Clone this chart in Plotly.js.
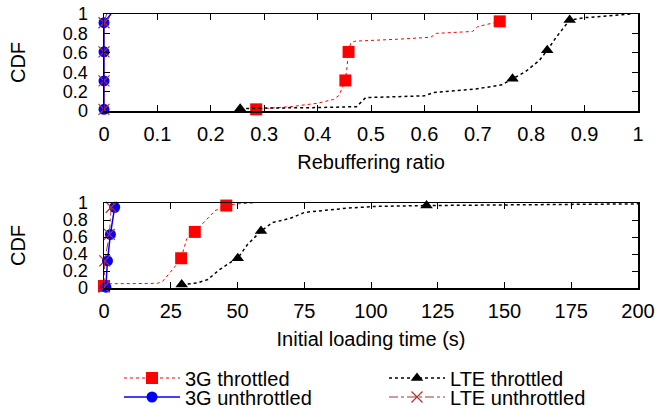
<!DOCTYPE html>
<html>
<head>
<meta charset="utf-8">
<script src="https://cdn.plot.ly/plotly-3.0.1.min.js"></script>
<style>html,body{margin:0;padding:0;background:#fff;}#chart{width:655px;height:408px;}</style>
</head>
<body>
<div id="chart"></div>
<script>
// ---------- Data ----------
// Top panel: rebuffering ratio CDFs
const rebuf3GThrX = [0.282, 0.285, 0.30, 0.35, 0.40, 0.43, 0.44, 0.445, 0.452, 0.455, 0.458, 0.462, 0.47, 0.55, 0.612, 0.622, 0.69, 0.70, 0.741];
const rebuf3GThrY = [0.0, 0.017, 0.025, 0.045, 0.08, 0.12, 0.16, 0.22, 0.315, 0.45, 0.609, 0.70, 0.72, 0.74, 0.76, 0.80, 0.82, 0.87, 0.924];
const rebuf3GThrMkX = [0.285, 0.452, 0.458, 0.741];
const rebuf3GThrMkY = [0.017, 0.315, 0.609, 0.924];

const rebufLTEThrX = [0.255, 0.30, 0.40, 0.473, 0.49, 0.55, 0.60, 0.617, 0.695, 0.745, 0.765, 0.789, 0.815, 0.830, 0.846, 0.872, 0.90, 0.98, 0.987];
const rebufLTEThrY = [0.024, 0.03, 0.035, 0.045, 0.138, 0.145, 0.156, 0.19, 0.225, 0.27, 0.332, 0.405, 0.52, 0.626, 0.754, 0.938, 0.962, 0.993, 1.0];
const rebufLTEThrMkX = [0.255, 0.765, 0.830, 0.872];
const rebufLTEThrMkY = [0.024, 0.332, 0.626, 0.938];

const rebuf3GUnX = [0, 0, 0, 0, 0.013];
const rebuf3GUnY = [0.0, 0.31, 0.61, 0.91, 1.0];
const rebuf3GUnMkX = [0, 0, 0, 0];
const rebuf3GUnMkY = [0.017, 0.31, 0.61, 0.91];

const rebufLTEUnX = [0, 0, 0, 0, 0.005];
const rebufLTEUnY = [0.0, 0.31, 0.61, 0.91, 1.0];
const rebufLTEUnMkX = [0, 0, 0, 0];
const rebufLTEUnMkY = [0.017, 0.31, 0.61, 0.91];

// Bottom panel: initial loading time CDFs (s)
const load3GThrX = [0, 0.5, 10, 20, 22, 24, 26.8, 28.9, 30.2, 31, 34, 36.2, 41.6, 45.8, 49.7, 55.7];
const load3GThrY = [0.024, 0.05, 0.052, 0.055, 0.08, 0.15, 0.26, 0.35, 0.5, 0.58, 0.66, 0.73, 0.91, 0.97, 0.99, 1.0];
const load3GThrMkX = [0, 28.9, 34, 45.8];
const load3GThrMkY = [0.024, 0.35, 0.66, 0.97];

const loadLTEThrX = [29.1, 35, 38.9, 43, 48.3, 50.1, 53.7, 58.8, 63.1, 69.8, 75.2, 91.3, 102, 120.8, 200];
const loadLTEThrY = [0.04, 0.06, 0.10, 0.21, 0.32, 0.35, 0.51, 0.67, 0.77, 0.82, 0.89, 0.94, 0.96, 0.97, 0.99];
const loadLTEThrMkX = [29.1, 50.1, 58.8, 120.8];
const loadLTEThrMkY = [0.04, 0.35, 0.67, 0.97];

const load3GUnX = [0.7, 1.3, 2.4, 4.0, 4.6];
const load3GUnY = [0.01, 0.32, 0.63, 0.95, 1.0];
const load3GUnMkX = [0.7, 1.3, 2.4, 4.0];
const load3GUnMkY = [0.01, 0.32, 0.63, 0.95];

const loadLTEUnX = [0, 0.3, 2.0, 2.7, 3.5];
const loadLTEUnY = [0.01, 0.32, 0.63, 0.95, 1.0];
const loadLTEUnMkX = [0, 0.3, 2.0, 2.7];
const loadLTEUnMkY = [0.01, 0.32, 0.63, 0.95];

const seriesNames = ['3G throttled', '3G unthrottled', 'LTE throttled', 'LTE unthrottled'];
const xTitleTop = 'Rebuffering ratio';
const xTitleBottom = 'Initial loading time (s)';
const yTitle = 'CDF';

// ---------- Styles ----------
const FONT = 'Liberation Sans, Arial, Helvetica, sans-serif';
const FS = 20;
const styles = {
  '3G throttled':   {line: {color: '#ff0000', width: 1, dash: 'dot'}, marker: {symbol: 'square', size: 12, color: '#ff0000'}, legend: 'legend'},
  '3G unthrottled': {line: {color: '#0000ff', width: 1.5, dash: 'solid'}, marker: {symbol: 'circle', size: 11, color: '#0000ff'}, legend: 'legend2'},
  'LTE throttled':  {line: {color: '#000000', width: 1.5, dash: 'dot'}, marker: {symbol: 'triangle-up', size: 11, color: '#000000'}, legend: 'legend3'},
  'LTE unthrottled':{line: {color: '#a83232', width: 1, dash: 'dashdot'}, marker: {symbol: 'x-thin-open', size: 11, color: '#a83232', line: {width: 1.2, color: '#a83232'}}, legend: 'legend4'}
};

const traces = [];
function addSeries(name, x, y, mx, my, xa, ya) {
  const s = styles[name];
  traces.push({type: 'scatter', mode: 'lines', x: x, y: y, xaxis: xa, yaxis: ya,
               line: s.line, showlegend: false, hoverinfo: 'skip'});
  traces.push({type: 'scatter', mode: 'markers', x: mx, y: my, xaxis: xa, yaxis: ya,
               marker: s.marker, cliponaxis: false, showlegend: false, hoverinfo: 'skip'});
}
addSeries('3G throttled', rebuf3GThrX, rebuf3GThrY, rebuf3GThrMkX, rebuf3GThrMkY, 'x', 'y');
addSeries('3G unthrottled', rebuf3GUnX, rebuf3GUnY, rebuf3GUnMkX, rebuf3GUnMkY, 'x', 'y');
addSeries('LTE throttled', rebufLTEThrX, rebufLTEThrY, rebufLTEThrMkX, rebufLTEThrMkY, 'x', 'y');
addSeries('LTE unthrottled', rebufLTEUnX, rebufLTEUnY, rebufLTEUnMkX, rebufLTEUnMkY, 'x', 'y');
addSeries('3G throttled', load3GThrX, load3GThrY, load3GThrMkX, load3GThrMkY, 'x2', 'y2');
addSeries('3G unthrottled', load3GUnX, load3GUnY, load3GUnMkX, load3GUnMkY, 'x2', 'y2');
addSeries('LTE throttled', loadLTEThrX, loadLTEThrY, loadLTEThrMkX, loadLTEThrMkY, 'x2', 'y2');
addSeries('LTE unthrottled', loadLTEUnX, loadLTEUnY, loadLTEUnMkX, loadLTEUnMkY, 'x2', 'y2');

// legend-only entries
seriesNames.forEach(function (n) {
  const s = styles[n];
  traces.push({type: 'scatter', mode: 'lines+markers', name: n, x: [null], y: [null],
               line: s.line, marker: s.marker, showlegend: true, legend: s.legend, xaxis: 'x', yaxis: 'y'});
});

// ---------- Layout ----------
const W = 655, H = 408;
const M = {l: 104, r: 17, t: 14, b: 120, autoexpand: false};
const plotH = H - M.t - M.b;
const plotW = W - M.l - M.r;
function py(pix) { return (H - M.b - pix) / plotH; }
function px(pix) { return (pix - M.l) / plotW; }

function axisBase(tfs) {
  return {showline: true, linecolor: '#000', linewidth: 1.5, mirror: 'ticks',
          ticks: 'inside', ticklen: 6, tickwidth: 1, tickcolor: '#000',
          showgrid: false, zeroline: false, fixedrange: true, automargin: false,
          tickfont: {family: FONT, size: tfs, color: '#000'}};
}
const xaxis = Object.assign(axisBase(FS), {domain: [0, 1], range: [0, 1], tick0: 0, dtick: 0.1, anchor: 'y',
  ticklabelstandoff: 4,
  title: {text: xTitleTop, font: {family: FONT, size: FS, color: '#000'}, standoff: 11}});
const yaxis = Object.assign(axisBase(18), {domain: [py(111), 1], range: [0, 1], tick0: 0, dtick: 0.2, anchor: 'x',
  ticklabelstandoff: 11,
  title: {text: yTitle, font: {family: FONT, size: FS, color: '#000'}, standoff: 32}});
const xaxis2 = Object.assign(axisBase(FS), {domain: [0, 1], range: [0, 200], tick0: 0, dtick: 25, anchor: 'y2',
  ticklabelstandoff: 4,
  title: {text: xTitleBottom, font: {family: FONT, size: FS, color: '#000'}, standoff: 11}});
const yaxis2 = Object.assign(axisBase(18), {domain: [0, py(203)], range: [0, 1], tick0: 0, dtick: 0.2, anchor: 'x2',
  ticklabelstandoff: 11,
  title: {text: yTitle, font: {family: FONT, size: FS, color: '#000'}, standoff: 32}});

function legendAt(xp, yp) {
  return {x: px(xp), y: py(yp), xanchor: 'left', yanchor: 'middle', orientation: 'v',
          bgcolor: 'rgba(0,0,0,0)', borderwidth: 0, itemwidth: 56,
          font: {family: FONT, size: FS, color: '#000'}, itemclick: false, itemdoubleclick: false};
}

const layout = {
  width: W, height: H, margin: M, paper_bgcolor: '#fff', plot_bgcolor: '#fff',
  font: {family: FONT, size: FS, color: '#000'},
  xaxis: xaxis, yaxis: yaxis, xaxis2: xaxis2, yaxis2: yaxis2,
  legend: legendAt(119, 378),
  legend2: legendAt(119, 397),
  legend3: legendAt(384, 378),
  legend4: legendAt(384, 397),
  showlegend: true
};

Plotly.newPlot('chart', traces, layout, {staticPlot: true, displayModeBar: false});
</script>
</body>
</html>
